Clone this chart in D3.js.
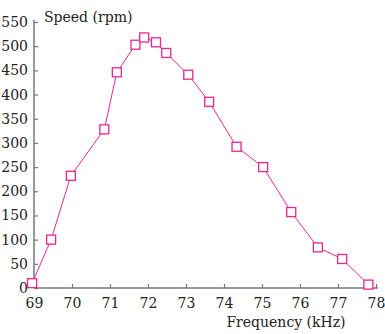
<!DOCTYPE html>
<html>
<head>
<meta charset="utf-8">
<script src="https://cdn.jsdelivr.net/npm/d3@7"></script>
<style>
  body { margin: 0; background: #fff; }
</style>
</head>
<body>
<div id="chart"></div>
<script>
// values
const freq  = [68.95, 69.45, 69.97, 70.85, 71.18, 71.67, 71.9, 72.21, 72.48, 73.06, 73.61, 74.33, 75.03, 75.77, 76.47, 77.11, 77.8];
const speed = [10, 100, 232, 328, 446, 503, 518, 508, 486, 441, 385, 292, 250, 157, 84, 60, 7];
const xTicks = [69, 70, 71, 72, 73, 74, 75, 76, 77, 78];
const yTicks = [0, 50, 100, 150, 200, 250, 300, 350, 400, 450, 500, 550];

const width = 385, height = 334;
const margin = {top: 22, right: 9, bottom: 46, left: 34};
const pink = '#e8268f';
const serif = 'DejaVu Serif';

const svg = d3.select('#chart').append('svg')
  .attr('width', width)
  .attr('height', height);

const x = d3.scaleLinear().domain([69, 78]).range([margin.left, width - margin.right]);
const y = d3.scaleLinear().domain([0, 550]).range([height - margin.bottom, margin.top]);

// x axis, ticks pointing up into the plot
const xAxis = svg.append('g')
  .attr('transform', `translate(0,${y(0)})`)
  .call(d3.axisBottom(x).tickValues(xTicks).tickSizeInner(-4).tickSizeOuter(0).tickPadding(10));
xAxis.select('.domain').attr('d', `M${margin.left},0H${width - 7}`);

// y axis, ticks pointing right
const yAxis = svg.append('g')
  .attr('transform', `translate(${margin.left},0)`)
  .call(d3.axisLeft(y).tickValues(yTicks).tickSizeInner(-4).tickSizeOuter(0).tickPadding(6));
yAxis.select('.domain').attr('d', `M0,${margin.top - 2}V${y(0)}`);

svg.selectAll('g').attr('font-family', serif);
svg.selectAll('.domain').attr('stroke', '#777').attr('stroke-width', 1.5);
svg.selectAll('.tick line').attr('stroke', '#777').attr('stroke-width', 1.2);
svg.selectAll('.tick text').attr('font-size', 14).attr('fill', '#222');

svg.append('text')
  .attr('x', 44).attr('y', 22)
  .attr('font-family', serif)
  .attr('font-size', 14)
  .attr('fill', '#222')
  .text('Speed (rpm)');

svg.append('text')
  .attr('x', 286).attr('y', 327)
  .attr('text-anchor', 'middle')
  .attr('font-family', serif)
  .attr('font-size', 14)
  .attr('fill', '#222')
  .text('Frequency (kHz)');

const pts = freq.map((f, i) => [f, speed[i]]);

svg.append('path')
  .datum(pts)
  .attr('fill', 'none')
  .attr('stroke', pink)
  .attr('stroke-width', 1)
  .attr('d', d3.line().x(d => x(d[0])).y(d => y(d[1])));

svg.selectAll('rect.pt')
  .data(pts)
  .join('rect')
  .attr('class', 'pt')
  .attr('x', d => x(d[0]) - 4.5)
  .attr('y', d => y(d[1]) - 4.5)
  .attr('width', 9)
  .attr('height', 9)
  .attr('fill', '#fff')
  .attr('stroke', pink)
  .attr('stroke-width', 1.3);
</script>
</body>
</html>
